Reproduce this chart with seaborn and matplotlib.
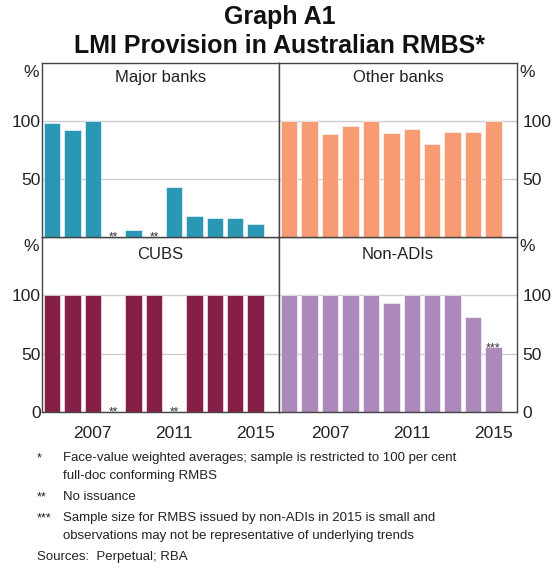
#!/usr/bin/env python3
import matplotlib
matplotlib.use("Agg")
import matplotlib.pyplot as plt
import numpy as np
import pandas as pd
import seaborn as sns


YEARS = [str(y) for y in range(2005, 2016)]
YEAR_LABELS = ["2007", "2011", "2015"]
MAJOR_BANKS = [98, 92.5, 100, np.nan, 6, np.nan, 43.5, 18.5, 16, 16, 11.5]
OTHER_BANKS = [100, 100, 88.5, 95.5, 100, 90, 93.5, 80.5, 90.5, 90.5, 100]
CUBS = [100, 100, 100, np.nan, 100, 100, np.nan, 100, 100, 100, 100]
NON_ADIS = [100, 100, 100, 100, 100, 93.5, 100, 100, 100, 81.5, 55.5]

PANELS = [
    ("Major banks", MAJOR_BANKS, "#2a97b5", "left", "top"),
    ("Other banks", OTHER_BANKS, "#f79b73", "right", "top"),
    ("CUBS", CUBS, "#861f47", "left", "bottom"),
    ("Non-ADIs", NON_ADIS, "#ad88bb", "right", "bottom"),
]
# small-sample flag
FLAGS = {("Non-ADIs", "2015"): "***"}

FOOTNOTES = [
    ("*", "Face-value weighted averages; sample is restricted to 100 per cent\nfull-doc conforming RMBS"),
    ("**", "No issuance"),
    ("***", "Sample size for RMBS issued by non-ADIs in 2015 is small and\nobservations may not be representative of underlying trends"),
]

W, H = 559, 568
AX_LEFT, AX_MID, AX_RIGHT = 42, 279, 517
AX_TOP, AX_SPLIT, AX_BOTTOM = 63, 237, 412
SPINE = "#444444"
TEXT = "#222222"


def fx(px):
    return px / W


def fy(px):
    return 1 - px / H


def draw_panel(fig, name, values, color, side, row):
    x0 = AX_LEFT if side == "left" else AX_MID
    x1 = AX_MID if side == "left" else AX_RIGHT
    y0 = AX_SPLIT if row == "top" else AX_BOTTOM
    y1 = AX_TOP if row == "top" else AX_SPLIT
    ax = fig.add_axes([fx(x0), fy(y0), fx(x1) - fx(x0), fy(y1) - fy(y0)])

    df = pd.DataFrame({"year": YEARS, "value": values})
    sns.barplot(data=df, x="year", y="value", order=YEARS, color=color,
                saturation=1, width=0.8, errorbar=None, ax=ax,
                edgecolor="white", linewidth=0.4)
    ax.set_xlim(-0.5, 11.15)
    ax.set_ylim(0, 150)
    ax.set_xlabel("")
    ax.set_ylabel("")

    # no-issuance markers and flags
    for i, (yr, v) in enumerate(zip(YEARS, values)):
        if np.isnan(v):
            ax.annotate("**", (i, 0), xytext=(0, -2.5), textcoords="offset points",
                        ha="center", va="baseline", fontsize=8.5, color="#333333",
                        annotation_clip=False, zorder=5)
        elif (name, yr) in FLAGS:
            ax.annotate(FLAGS[(name, yr)], (i, v), xytext=(0, -3), textcoords="offset points",
                        ha="center", va="baseline", fontsize=9, color="#333333")

    ax.set_title(name, fontsize=12, color=TEXT, y=1, pad=-13.5 if row == "top" else -16)

    ticks = [50, 100] if row == "top" else [0, 50, 100]
    ax.set_yticks(ticks)
    ax.set_yticklabels([str(t) for t in ticks], fontsize=12.5, color=TEXT)
    ax.grid(axis="y", color="#cccccc", linewidth=1)
    ax.set_axisbelow(True)
    if side == "right":
        ax.yaxis.tick_right()
        ax.tick_params(axis="y", length=0, pad=4)
        ax.text(1.012, 0.99, "%", transform=ax.transAxes, ha="left", va="top", fontsize=12.5, color=TEXT)
    else:
        ax.tick_params(axis="y", length=0, pad=1)
        ax.text(-0.012, 0.99, "%", transform=ax.transAxes, ha="right", va="top", fontsize=12.5, color=TEXT)

    ax.set_xticks([YEARS.index(y) for y in YEAR_LABELS])
    if row == "bottom":
        ax.set_xticklabels(YEAR_LABELS, fontsize=12.5, color=TEXT)
    else:
        ax.set_xticklabels([])
    ax.tick_params(axis="x", which="major", length=0, pad=10)
    ax.set_xticks(np.arange(0.5, len(YEARS) - 0.4, 1.0), minor=True)
    ax.tick_params(axis="x", which="minor", direction="in", length=3.5, width=0.8, color=SPINE)

    for sp in ax.spines.values():
        sp.set_visible(True)
        sp.set_color(SPINE)
        sp.set_linewidth(1)
    return ax


def main():
    sns.set_theme(style="white")
    plt.rcParams["font.family"] = ["Liberation Sans", "DejaVu Sans"]

    fig = plt.figure(figsize=(W / 100, H / 100), dpi=100)
    fig.text(0.5, fy(17), "Graph A1", ha="center", va="center", fontsize=18, fontweight="bold", color="#111111")
    fig.text(0.5, fy(46), "LMI Provision in Australian RMBS*", ha="center", va="center", fontsize=18,
             fontweight="bold", color="#111111")

    # draw the top row last so the "**" markers sit above the lower panels
    for name, values, color, side, row in PANELS[2:] + PANELS[:2]:
        draw_panel(fig, name, values, color, side, row)

    y = 458
    for mark, note in FOOTNOTES:
        fig.text(fx(37), fy(y), mark, ha="left", va="center", fontsize=9, color=TEXT)
        lines = note.split("\n")
        for ln in lines:
            fig.text(fx(63), fy(y), ln, ha="left", va="center", fontsize=9.5, color=TEXT)
            y += 18
        y += 3
    fig.text(fx(37), fy(557), "Sources:  Perpetual; RBA", ha="left", va="center", fontsize=9.5, color=TEXT)

    fig.savefig("out.png", dpi=100)
    plt.close(fig)


if __name__ == "__main__":
    main()
